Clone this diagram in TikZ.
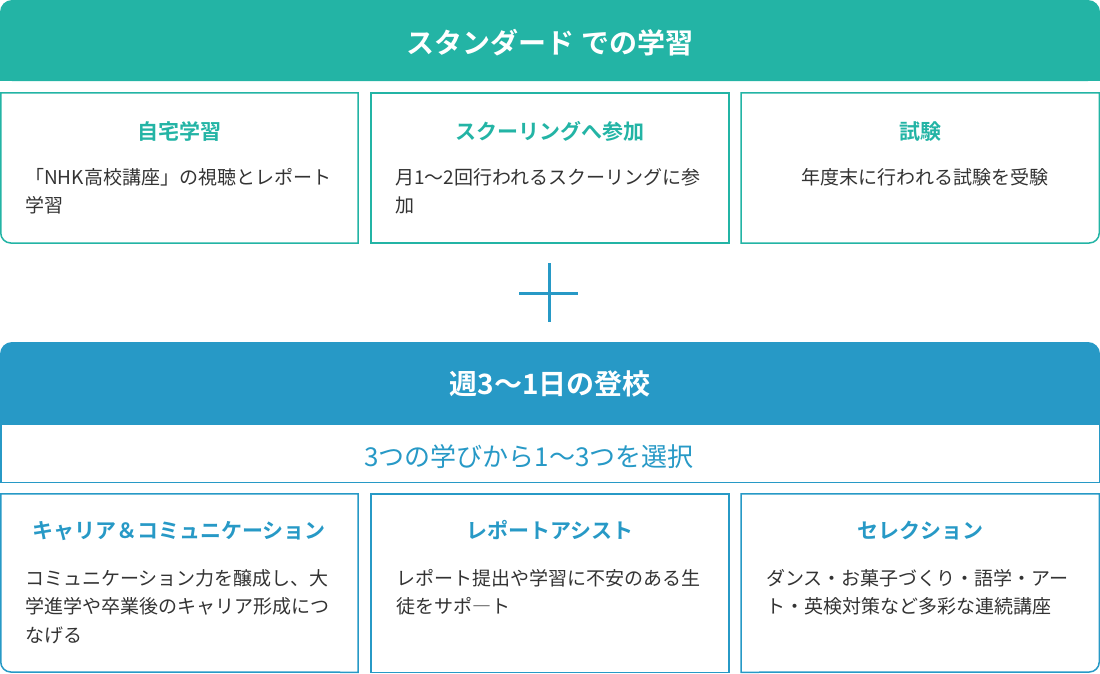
\documentclass[tikz,border=0pt]{standalone}
\usepackage{fontspec}
\setmainfont{Noto Sans CJK JP}[BoldFont=* Bold]
\definecolor{stdteal}{HTML}{23B4A5}
\definecolor{wkblue}{HTML}{2799C6}
\definecolor{txtgray}{HTML}{333333}
\begin{document}
\begin{tikzpicture}[x=1pt,y=-1pt,
    headtext/.style={font=\bfseries\fontsize{28}{32}\selectfont, text=white, inner sep=0, anchor=base},
    boxtitle/.style={font=\bfseries\fontsize{21}{25}\selectfont, inner sep=0, anchor=base},
    boxtext/.style={font=\fontsize{19}{28.5}\selectfont, text=txtgray, align=left, inner sep=0, anchor=base west},
    frame/.style={line width=1.5pt}]
    \useasboundingbox (0,0) rectangle (1100,673);
    % standard
    \fill[stdteal, rounded corners=12pt] (0,0) rectangle (1100,81);
    \fill[stdteal] (0,40) rectangle (1100,81);
    \draw[frame, stdteal] (358,92.75) -- (0.75,92.75) -- (0.75,233) arc[start angle=180, end angle=90, radius=10] -- (358,243) -- cycle;
    \draw[frame, stdteal] (371,92.75) rectangle (729,243);
    \draw[frame, stdteal] (741,92.75) -- (1099.25,92.75) -- (1099.25,233) arc[start angle=0, end angle=90, radius=10] -- (741,243) -- cycle;
    \node[headtext] (std) at (550,53) {スタンダード での学習};
    \node[boxtitle, text=stdteal] (home) at (179,139) {自宅学習};
    \node[boxtext] (hometxt) at (25,212.5) {「NHK高校講座」の視聴とレポート\\学習};
    \node[boxtitle, text=stdteal] (school) at (550,139) {スクーリングへ参加};
    \node[boxtext] (schooltxt) at (395,212.5) {月1〜2回行われるスクーリングに参\\加};
    \node[boxtitle, text=stdteal] (exam) at (920,139) {試験};
    \node[boxtext, anchor=base] (examtxt) at (925,184) {年度末に行われる試験を受験};
    % plus
    \draw[wkblue, line width=3pt] (549,263) -- (549,322) (519,293) -- (578,293);
    % weekly
    \fill[wkblue, rounded corners=12pt] (0,342) rectangle (1100,424);
    \fill[wkblue] (0,380) rectangle (1100,424);
    \draw[frame, wkblue] (0.75,424) rectangle (1099.25,482.25);
    \draw[frame, wkblue] (358,493.75) -- (0.75,493.75) -- (0.75,662) arc[start angle=180, end angle=90, radius=10] -- (358,672.25) -- cycle;
    \draw[frame, wkblue] (371,493.75) rectangle (729,672.25);
    \draw[frame, wkblue] (741,493.75) -- (1099.25,493.75) -- (1099.25,662) arc[start angle=0, end angle=90, radius=10] -- (741,672.25) -- cycle;
    \node[headtext] (week) at (550,394) {週3〜1日の登校};
    \node[font=\fontsize{26}{30}\selectfont, text=wkblue, inner sep=0, anchor=base] (choice) at (529,466) {3つの学びから1〜3つを選択};
    \node[boxtitle, text=wkblue] (career) at (179,538) {キャリア＆コミュニケーション};
    \node[boxtext] (careertxt) at (25,642) {コミュニケーション力を醸成し、大\\学進学や卒業後のキャリア形成につ\\なげる};
    \node[boxtitle, text=wkblue] (report) at (550,538) {レポートアシスト};
    \node[boxtext] (reporttxt) at (396,613.5) {レポート提出や学習に不安のある生\\徒をサポ―ト};
    \node[boxtitle, text=wkblue] (select) at (920,538) {セレクション};
    \node[boxtext] (selecttxt) at (766,613.5) {ダンス・お菓子づくり・語学・アー\\ト・英検対策など多彩な連続講座};
\end{tikzpicture}
\end{document}
